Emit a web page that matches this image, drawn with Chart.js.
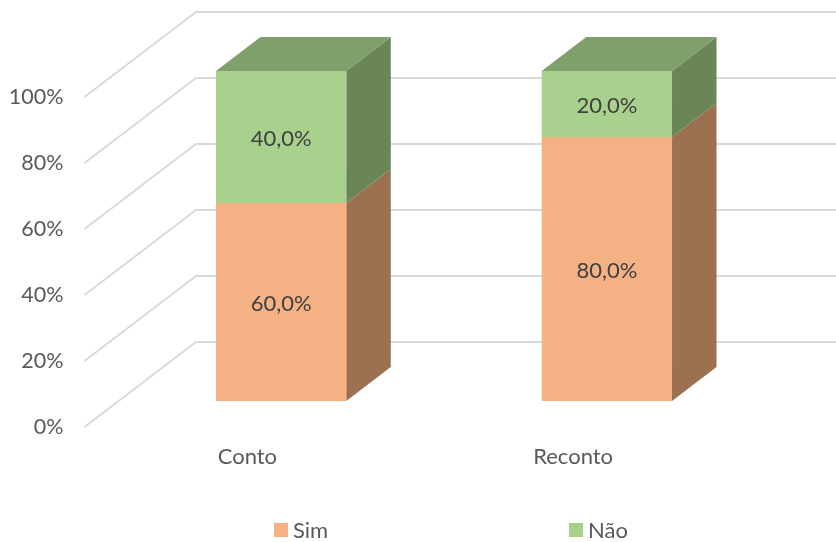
<!DOCTYPE html>
<html>
<head>
<meta charset="utf-8">
<style>
    html, body { margin: 0; padding: 0; background: #fff; }
    .chart-box { width: 836px; height: 542px; }
</style>
<script src="https://cdn.jsdelivr.net/npm/chart.js@4"></script>
</head>
<body>
<div class="chart-box"><canvas class="js-chart"></canvas></div>
<script>
const categories = ['Conto', 'Reconto'];
const simValues = [60, 80];
const naoValues = [40, 20];
const yTicks = [0, 20, 40, 60, 80, 100];

const FONT = 'Lato, "Open Sans", sans-serif';
const GRID_COLOR = '#d9d9d9';
const WALL = { dx: 111.5, dy: 85 };
const BAR_SHIFT = { dx: 33.75, dy: 26 };
const BAR_DEPTH = { dx: 44.5, dy: 34 };

const SIM = { front: '#f4b183', side: '#9b7152' };
const NAO = { front: '#a9d18e', side: '#6a8558', top: '#7f9f6b' };

function polygon(ctx, points, fill) {
    ctx.fillStyle = fill;
    ctx.beginPath();
    points.forEach(([x, y], i) => (i ? ctx.lineTo(x, y) : ctx.moveTo(x, y)));
    ctx.closePath();
    ctx.fill();
}

// Excel style 3D box: back wall first, then the side and top of each bar, front comes from Chart.js
const box3d = {
    id: 'box3d',
    beforeDatasetsDraw(chart) {
        const { ctx, chartArea, scales } = chart;
        ctx.save();
        ctx.strokeStyle = GRID_COLOR;
        ctx.lineWidth = 1.8;
        yTicks.forEach(tick => {
            const y = scales.y.getPixelForValue(tick);
            ctx.beginPath();
            ctx.moveTo(chartArea.left, y);
            ctx.lineTo(chartArea.left + WALL.dx, y - WALL.dy);
            ctx.lineTo(chart.width, y - WALL.dy);
            ctx.stroke();
        });

        ctx.translate(BAR_SHIFT.dx, -BAR_SHIFT.dy);
        const { dx, dy } = BAR_DEPTH;
        [SIM, NAO].forEach((colors, d) => {
            chart.getDatasetMeta(d).data.forEach(bar => {
                const right = bar.x + bar.width / 2;
                const left = bar.x - bar.width / 2;
                polygon(ctx, [[right, bar.y], [right + dx, bar.y - dy], [right + dx, bar.base - dy], [right, bar.base]], colors.side);
                if (colors.top) {
                    polygon(ctx, [[left, bar.y], [left + dx, bar.y - dy], [right + dx, bar.y - dy], [right, bar.y]], colors.top);
                }
            });
        });
        // stays shifted while Chart.js paints the fronts
    },
    afterDatasetsDraw(chart) {
        const { ctx } = chart;
        ctx.restore();

        ctx.save();
        ctx.translate(BAR_SHIFT.dx, -BAR_SHIFT.dy);
        ctx.font = '22px ' + FONT;
        ctx.fillStyle = '#404040';
        ctx.textAlign = 'center';
        ctx.textBaseline = 'middle';
        chart.data.datasets.forEach((dataset, d) => {
            chart.getDatasetMeta(d).data.forEach((bar, i) => {
                const label = dataset.data[i].toFixed(1).replace('.', ',') + '%';
                ctx.fillText(label, bar.x, (bar.y + bar.base) / 2 + 2);
            });
        });
        ctx.restore();

        // legend items sit far apart, wider than the built in legend allows without eating the plot
        ctx.save();
        ctx.font = '22px ' + FONT;
        ctx.textBaseline = 'middle';
        ctx.textAlign = 'left';
        [274, 569].forEach((x, d) => {
            const dataset = chart.data.datasets[d];
            ctx.fillStyle = dataset.backgroundColor;
            ctx.fillRect(x, 523, 14, 14);
            ctx.fillStyle = '#595959';
            ctx.fillText(dataset.label, x + 19, 531);
        });
        ctx.restore();
    },
};

new Chart(document.querySelector('.js-chart').getContext('2d'), {
    type: 'bar',
    data: {
        labels: categories,
        datasets: [
            { label: 'Sim', data: simValues, backgroundColor: SIM.front, borderWidth: 0 },
            { label: 'Não', data: naoValues, backgroundColor: NAO.front, borderWidth: 0 },
        ],
    },
    options: {
        responsive: true,
        maintainAspectRatio: false,
        animation: false,
        layout: { padding: { top: 97, right: 100 } },
        datasets: { bar: { categoryPercentage: 1, barPercentage: 0.4 } },
        plugins: { legend: { display: false }, tooltip: { enabled: false } },
        scales: {
            x: {
                stacked: true,
                grid: { display: false },
                border: { display: false },
                ticks: { color: '#595959', font: { family: FONT, size: 22 }, padding: 9, maxRotation: 0 },
                afterFit(scale) {
                    scale.height = 115;
                },
            },
            y: {
                stacked: true,
                min: 0,
                max: 100,
                grid: { display: false, drawTicks: false },
                border: { display: false },
                afterBuildTicks(scale) {
                    scale.ticks = yTicks.map(value => ({ value }));
                },
                ticks: {
                    color: '#595959',
                    font: { family: FONT, size: 21.5 },
                    padding: 21,
                    callback(value) {
                        return value + '%';
                    },
                },
                afterFit(scale) {
                    scale.width = 84.5;
                },
            },
        },
    },
    plugins: [box3d],
});
</script>
</body>
</html>
